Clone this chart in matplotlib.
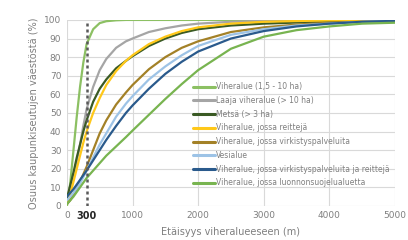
import matplotlib
matplotlib.use("Agg")
import matplotlib.pyplot as plt

# etäisyys (m)
etaisyys = [0, 50, 100, 150, 200, 250, 300, 400, 500, 600, 750, 900, 1000,
            1250, 1500, 1750, 2000, 2500, 3000, 3500, 4000, 4500, 5000]

viheralue = [0, 12, 30, 48, 64, 77, 87, 95, 98.3, 99.3, 99.8, 100, 100,
             100, 100, 100, 100, 100, 100, 100, 100, 100, 100]
laaja = [2, 8, 15, 24, 33, 43, 52, 64, 73, 79, 85, 88.5, 90,
         93.5, 95.5, 97, 98, 99, 99.5, 99.8, 100, 100, 100]
metsa = [4, 11, 18, 26, 33, 40, 46, 56, 63, 68, 74, 78, 80.5,
         86, 90, 93, 95, 97, 98, 98.6, 99, 99.3, 99.5]
reitit = [1, 6, 13, 20, 27, 34, 40, 50, 58, 65, 72.5, 78, 81,
          87, 91, 94, 96, 98, 99, 99.4, 99.7, 99.9, 100]
virkistys = [1, 3, 6, 9.5, 13, 17, 21, 30, 39, 46, 54.5, 61, 65,
             73.5, 80, 85, 88.5, 93.5, 96, 97.5, 98.5, 99, 99.5]
vesialue = [3, 5, 7, 9.5, 12, 15.5, 19, 26, 33, 39, 48, 55, 59,
            68, 75, 81, 86, 92, 95, 97, 98, 99, 99.5]
virk_reitit = [5, 7, 9, 11.5, 14, 16.5, 19, 24.5, 30, 35.5, 43, 50, 54,
               63, 71, 77.5, 83, 90, 94, 96.5, 98, 99, 99.5]
luonnonsuojelu = [1, 3, 5, 7.5, 10, 12.5, 15, 19, 23, 27, 32, 37, 40.5,
                  49, 57.5, 65.5, 73, 84.5, 91, 94.5, 96.5, 98, 98.5]

sarjat = [
    ("Viheralue (1,5 - 10 ha)", viheralue, "#8cc063"),
    ("Laaja viheralue (> 10 ha)", laaja, "#a5a5a5"),
    ("Metsä (> 3 ha)", metsa, "#3a5a24"),
    ("Viheralue, jossa reittejä", reitit, "#ffc819"),
    ("Viheralue, jossa virkistyspalveluita", virkistys, "#a38127"),
    ("Vesialue", vesialue, "#9dc3e6"),
    ("Viheralue, jossa virkistyspalveluita ja reittejä", virk_reitit, "#2a5a8c"),
    ("Viheralue, jossa luonnonsuojelualuetta", luonnonsuojelu, "#78b450"),
]

x_ticks = [0, 300, 1000, 2000, 3000, 4000, 5000]
y_ticks = list(range(0, 101, 10))

fig, ax = plt.subplots(figsize=(4.08, 2.40), dpi=100)
fig.subplots_adjust(left=0.164, right=0.968, top=0.917, bottom=0.142)

for nimi, arvot, vari in sarjat:
    ax.plot(etaisyys, arvot, color=vari, lw=1.6, label=nimi,
            solid_capstyle="round", solid_joinstyle="round")

ax.axvline(300, color="#595959", lw=1.8, linestyle=(0, (1.2, 1.2)), zorder=5)

ax.set_xlim(0, 5000)
ax.set_ylim(0, 100)
ax.set_xticks(x_ticks)
ax.set_yticks(y_ticks)
ax.grid(True, color="#d9d9d9", lw=0.8)
ax.get_xgridlines()[1].set_visible(False)
ax.set_axisbelow(True)
for s in ax.spines.values():
    s.set_visible(False)
ax.tick_params(length=0, labelsize=6.5, colors="#7f7f7f", pad=4)
for lbl in ax.get_xticklabels():
    if lbl.get_text() == "300":
        lbl.set_fontweight("bold")
        lbl.set_color("#262626")
        lbl.set_fontsize(7)

ax.set_xlabel("Etäisyys viheralueeseen (m)", fontsize=7, color="#7f7f7f", labelpad=4)
ax.set_ylabel("Osuus kaupunkiseutujen väestöstä (%)", fontsize=7, color="#7f7f7f", labelpad=4)

leg = ax.legend(loc="upper left", bbox_to_anchor=(0.385, 0.665), frameon=False,
                fontsize=5.5, handlelength=2.8, handletextpad=0.2, labelspacing=0.62,
                borderpad=0, borderaxespad=0)
for line in leg.get_lines():
    line.set_linewidth(2.2)
for t in leg.get_texts():
    t.set_color("#7f7f7f")

fig.savefig("out.png", dpi=100)
